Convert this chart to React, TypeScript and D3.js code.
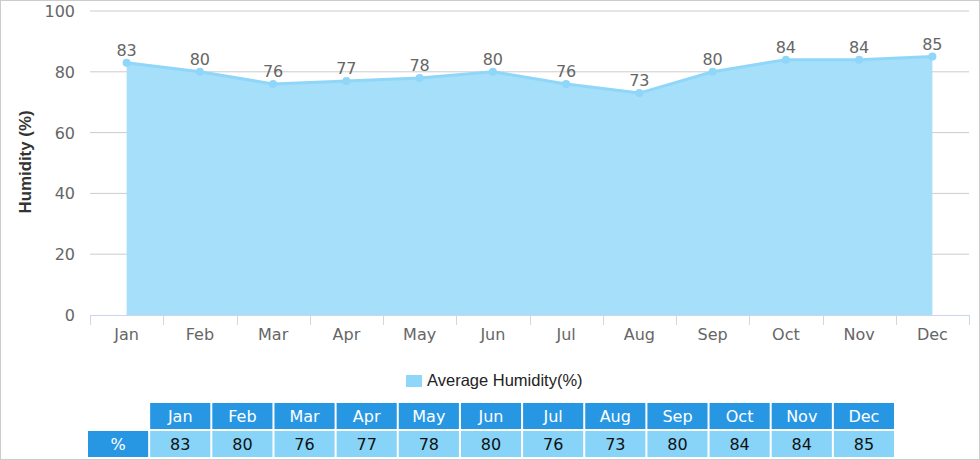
import React from "react";
import * as d3 from "d3";

const months = ["Jan", "Feb", "Mar", "Apr", "May", "Jun", "Jul", "Aug", "Sep", "Oct", "Nov", "Dec"];
const humidity = [83, 80, 76, 77, 78, 80, 76, 73, 80, 84, 84, 85];
const yTicks = [0, 20, 40, 60, 80, 100];
const seriesName = "Average Humidity(%)";
const rowLabel = "%";

const W = 980;
const H = 460;

const App: React.FC = () => {
    const x = d3.scaleBand<string>().domain(months).range([90, 969]);
    const y = d3.scaleLinear().domain([0, 100]).range([315, 11]);
    const cx = (m: string) => (x(m) ?? 0) + x.bandwidth() / 2;

    const area = d3
        .area<number>()
        .x((_, i) => cx(months[i]))
        .y0(y(0))
        .y1((d) => y(d));
    const line = d3
        .line<number>()
        .x((_, i) => cx(months[i]))
        .y((d) => y(d));

    // table columns
    const col = d3.scaleBand<string>().domain([rowLabel, ...months]).range([88, 894]).paddingInner(2 / 62);

    return (
        <svg width={W} height={H} style={{ position: "absolute", left: 0, top: 0, background: "#fff" }}>
            <rect x={0.5} y={0.5} width={W - 1} height={H - 1} fill="none" stroke="#ccc" />

            {/* grid */}
            {yTicks.filter((t) => t > 0).map((t) => (
                <line key={t} x1={90} x2={969} y1={y(t)} y2={y(t)} stroke="#ccc" />
            ))}

            <path d={area(humidity) ?? ""} fill="#a5dffa" />
            <path d={line(humidity) ?? ""} fill="none" stroke="#8fd6f9" strokeWidth={3} />
            {humidity.map((v, i) => (
                <circle key={i} cx={cx(months[i])} cy={y(v)} r={4} fill="#8fd6f9" />
            ))}
            {humidity.map((v, i) => (
                <text
                    key={i}
                    x={cx(months[i])}
                    y={y(v) - 7}
                    textAnchor="middle"
                    fontFamily="DejaVu Sans"
                    fontSize={16}
                    fill="#666"
                >
                    {v}
                </text>
            ))}

            {/* x axis */}
            <line x1={90} x2={969} y1={315.5} y2={315.5} stroke="#ccd6eb" />
            {[...months.map((m) => x(m) ?? 0), 969].map((px, i) => (
                <line key={i} x1={Math.round(px) + 0.5} x2={Math.round(px) + 0.5} y1={315} y2={325} stroke="#ccd6eb" />
            ))}
            {months.map((m) => (
                <text key={m} x={cx(m)} y={340} textAnchor="middle" fontFamily="DejaVu Sans" fontSize={16} fill="#666">
                    {m}
                </text>
            ))}

            {/* y axis */}
            {yTicks.map((t) => (
                <text key={t} x={75} y={y(t) + 6} textAnchor="end" fontFamily="DejaVu Sans" fontSize={16} fill="#666">
                    {t}
                </text>
            ))}
            <text
                transform={`translate(31,162) rotate(-90)`}
                textAnchor="middle"
                fontFamily="Liberation Sans"
                fontWeight="bold"
                fontSize={16}
                textLength={103}
                lengthAdjust="spacingAndGlyphs"
                fill="#333"
            >
                Humidity (%)
            </text>

            {/* legend */}
            <rect x={406} y={375} width={16} height={12} fill="#8fd6f9" />
            <text x={427} y={386} fontFamily="Liberation Sans" fontSize={16.5} fill="#222">
                {seriesName}
            </text>

            {/* data table */}
            {months.map((m) => (
                <g key={m}>
                    <rect x={col(m)} y={403} width={col.bandwidth()} height={26} fill="#2897e3" />
                    <text
                        x={(col(m) ?? 0) + col.bandwidth() / 2}
                        y={422}
                        textAnchor="middle"
                        fontFamily="DejaVu Sans"
                        fontSize={16}
                        fill="#fff"
                    >
                        {m}
                    </text>
                </g>
            ))}
            <rect x={col(rowLabel)} y={431} width={col.bandwidth()} height={26} fill="#2897e3" />
            <text
                x={(col(rowLabel) ?? 0) + col.bandwidth() / 2}
                y={450}
                textAnchor="middle"
                fontFamily="DejaVu Sans"
                fontSize={16}
                fill="#fff"
            >
                {rowLabel}
            </text>
            {humidity.map((v, i) => (
                <g key={i}>
                    <rect x={col(months[i])} y={431} width={col.bandwidth()} height={26} fill="#87d4f8" />
                    <text
                        x={(col(months[i]) ?? 0) + col.bandwidth() / 2}
                        y={450}
                        textAnchor="middle"
                        fontFamily="DejaVu Sans"
                        fontSize={16}
                        fill="#111"
                    >
                        {v}
                    </text>
                </g>
            ))}
        </svg>
    );
};

export default App;
